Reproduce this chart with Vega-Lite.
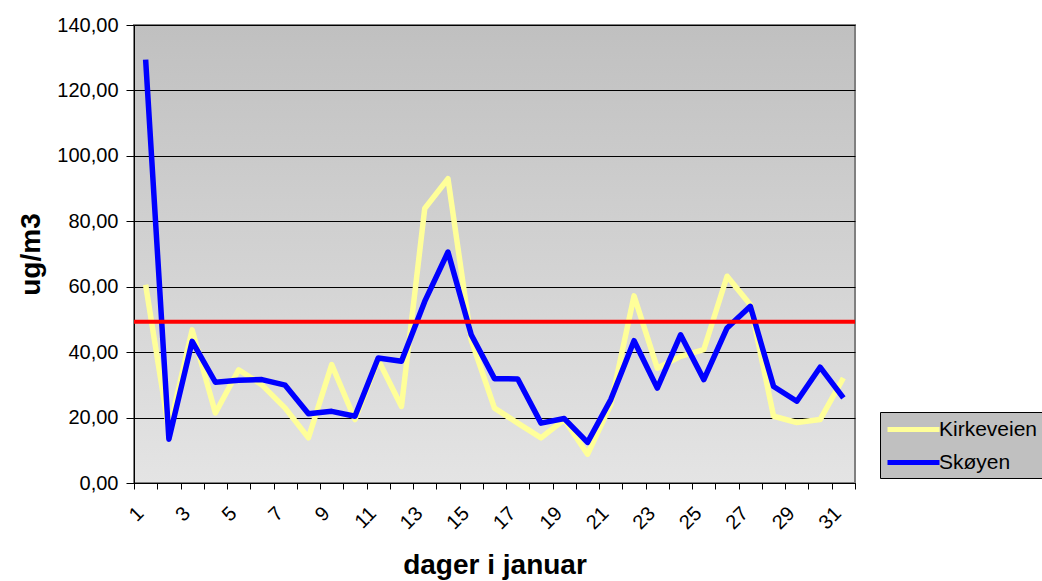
{
  "$schema": "https://vega.github.io/schema/vega-lite/v6.json",
  "width": 721,
  "height": 458,
  "autosize": {"type": "none"},
  "padding": {"left": 134, "top": 25, "right": 187, "bottom": 98},
  "background": "white",
  "view": {
    "fill": {"gradient": "linear", "x1": 0, "y1": 0, "x2": 0, "y2": 1, "stops": [{"offset": 0, "color": "#c0c0c0"}, {"offset": 1, "color": "#e4e4e4"}]},
    "stroke": "#808080",
    "strokeWidth": 2
  },
  "config": {"font": "Liberation Sans"},
  "layer": [
    {
      "data": {
        "values": [
          {"day": 1, "station": "Kirkeveien", "value": 60.6},
          {"day": 2, "station": "Kirkeveien", "value": 16.0},
          {"day": 3, "station": "Kirkeveien", "value": 46.8},
          {"day": 4, "station": "Kirkeveien", "value": 21.4},
          {"day": 5, "station": "Kirkeveien", "value": 34.6},
          {"day": 6, "station": "Kirkeveien", "value": 30.0},
          {"day": 7, "station": "Kirkeveien", "value": 22.9},
          {"day": 8, "station": "Kirkeveien", "value": 13.8},
          {"day": 9, "station": "Kirkeveien", "value": 36.2},
          {"day": 10, "station": "Kirkeveien", "value": 19.4},
          {"day": 11, "station": "Kirkeveien", "value": 37.7},
          {"day": 12, "station": "Kirkeveien", "value": 23.4},
          {"day": 13, "station": "Kirkeveien", "value": 83.9},
          {"day": 14, "station": "Kirkeveien", "value": 93.0},
          {"day": 15, "station": "Kirkeveien", "value": 43.7},
          {"day": 16, "station": "Kirkeveien", "value": 22.9},
          {"day": 17, "station": "Kirkeveien", "value": 18.3},
          {"day": 18, "station": "Kirkeveien", "value": 13.8},
          {"day": 19, "station": "Kirkeveien", "value": 19.4},
          {"day": 20, "station": "Kirkeveien", "value": 8.8},
          {"day": 21, "station": "Kirkeveien", "value": 24.0},
          {"day": 22, "station": "Kirkeveien", "value": 57.2},
          {"day": 23, "station": "Kirkeveien", "value": 35.1},
          {"day": 24, "station": "Kirkeveien", "value": 38.7},
          {"day": 25, "station": "Kirkeveien", "value": 40.8},
          {"day": 26, "station": "Kirkeveien", "value": 63.2},
          {"day": 27, "station": "Kirkeveien", "value": 54.5},
          {"day": 28, "station": "Kirkeveien", "value": 20.4},
          {"day": 29, "station": "Kirkeveien", "value": 18.5},
          {"day": 30, "station": "Kirkeveien", "value": 19.4},
          {"day": 31, "station": "Kirkeveien", "value": 32.1},
          {"day": 1, "station": "Skøyen", "value": 129.4},
          {"day": 2, "station": "Skøyen", "value": 13.4},
          {"day": 3, "station": "Skøyen", "value": 43.3},
          {"day": 4, "station": "Skøyen", "value": 30.8},
          {"day": 5, "station": "Skøyen", "value": 31.4},
          {"day": 6, "station": "Skøyen", "value": 31.6},
          {"day": 7, "station": "Skøyen", "value": 29.9},
          {"day": 8, "station": "Skøyen", "value": 21.2},
          {"day": 9, "station": "Skøyen", "value": 21.9},
          {"day": 10, "station": "Skøyen", "value": 20.4},
          {"day": 11, "station": "Skøyen", "value": 38.2},
          {"day": 12, "station": "Skøyen", "value": 37.2},
          {"day": 13, "station": "Skøyen", "value": 55.5},
          {"day": 14, "station": "Skøyen", "value": 70.6},
          {"day": 15, "station": "Skøyen", "value": 45.3},
          {"day": 16, "station": "Skøyen", "value": 31.9},
          {"day": 17, "station": "Skøyen", "value": 31.8},
          {"day": 18, "station": "Skøyen", "value": 18.3},
          {"day": 19, "station": "Skøyen", "value": 19.7},
          {"day": 20, "station": "Skøyen", "value": 12.4},
          {"day": 21, "station": "Skøyen", "value": 25.5},
          {"day": 22, "station": "Skøyen", "value": 43.5},
          {"day": 23, "station": "Skøyen", "value": 29.0},
          {"day": 24, "station": "Skøyen", "value": 45.3},
          {"day": 25, "station": "Skøyen", "value": 31.6},
          {"day": 26, "station": "Skøyen", "value": 47.4},
          {"day": 27, "station": "Skøyen", "value": 54.0},
          {"day": 28, "station": "Skøyen", "value": 29.5},
          {"day": 29, "station": "Skøyen", "value": 25.0},
          {"day": 30, "station": "Skøyen", "value": 35.4},
          {"day": 31, "station": "Skøyen", "value": 26.0}
        ]
      },
      "mark": {"type": "line", "strokeWidth": 5.5, "strokeJoin": "round"},
      "encoding": {
        "x": {
          "field": "day",
          "type": "quantitative",
          "scale": {"domain": [0.5, 31.5], "nice": false, "zero": false},
          "axis": {
            "values": [0.5, 1.5, 2.5, 3.5, 4.5, 5.5, 6.5, 7.5, 8.5, 9.5, 10.5, 11.5, 12.5, 13.5, 14.5, 15.5, 16.5, 17.5, 18.5, 19.5, 20.5, 21.5, 22.5, 23.5, 24.5, 25.5, 26.5, 27.5, 28.5, 29.5, 30.5, 31.5],
            "labelExpr": "datum.value % 2 == 0.5 ? toString(datum.value + 0.5) : ''",
            "labelAngle": -45,
            "labelAlign": "right",
            "labelBaseline": "middle",
            "labelOffset": 6,
            "labelPadding": 21,
            "labelFontSize": 20,
            "labelColor": "black",
            "labelOverlap": false,
            "labelFlush": false,
            "labelBound": false,
            "tickSize": 6,
            "tickColor": "black",
            "domainColor": "black",
            "grid": false,
            "title": "dager i januar",
            "titleFontSize": 28,
            "titleFontWeight": "bold",
            "titleColor": "black",
            "titlePadding": 19
          }
        },
        "y": {
          "field": "value",
          "type": "quantitative",
          "scale": {"domain": [0, 140], "nice": false},
          "axis": {
            "values": [0, 20, 40, 60, 80, 100, 120, 140],
            "labelExpr": "replace(format(datum.value, '.2f'), '.', ',')",
            "labelFontSize": 20,
            "labelColor": "black",
            "labelPadding": 8,
            "tickSize": 8,
            "tickColor": "black",
            "domainColor": "black",
            "grid": true,
            "gridColor": "black",
            "gridOpacity": 1,
            "title": "ug/m3",
            "titleFontSize": 28,
            "titleFontWeight": "bold",
            "titleColor": "black",
            "titlePadding": 11
          }
        },
        "color": {
          "field": "station",
          "type": "nominal",
          "scale": {"domain": ["Kirkeveien", "Skøyen"], "range": ["#ffff99", "#0000ff"]},
          "legend": {
            "title": null,
            "orient": "none",
            "legendX": 746,
            "legendY": 387,
            "symbolType": "M-1,0H4.2",
            "symbolSize": 400,
            "symbolStrokeWidth": 5,
            "labelFontSize": 21,
            "labelColor": "black",
            "labelOffset": 29,
            "fillColor": "#c0c0c0",
            "strokeColor": "black",
            "padding": 5,
            "rowPadding": 10
          }
        }
      }
    },
    {
      "data": {"values": [{"limit": 49.3}]},
      "mark": {"type": "rule", "color": "#ff0000", "strokeWidth": 4},
      "encoding": {"y": {"field": "limit", "type": "quantitative"}}
    }
  ]
}
